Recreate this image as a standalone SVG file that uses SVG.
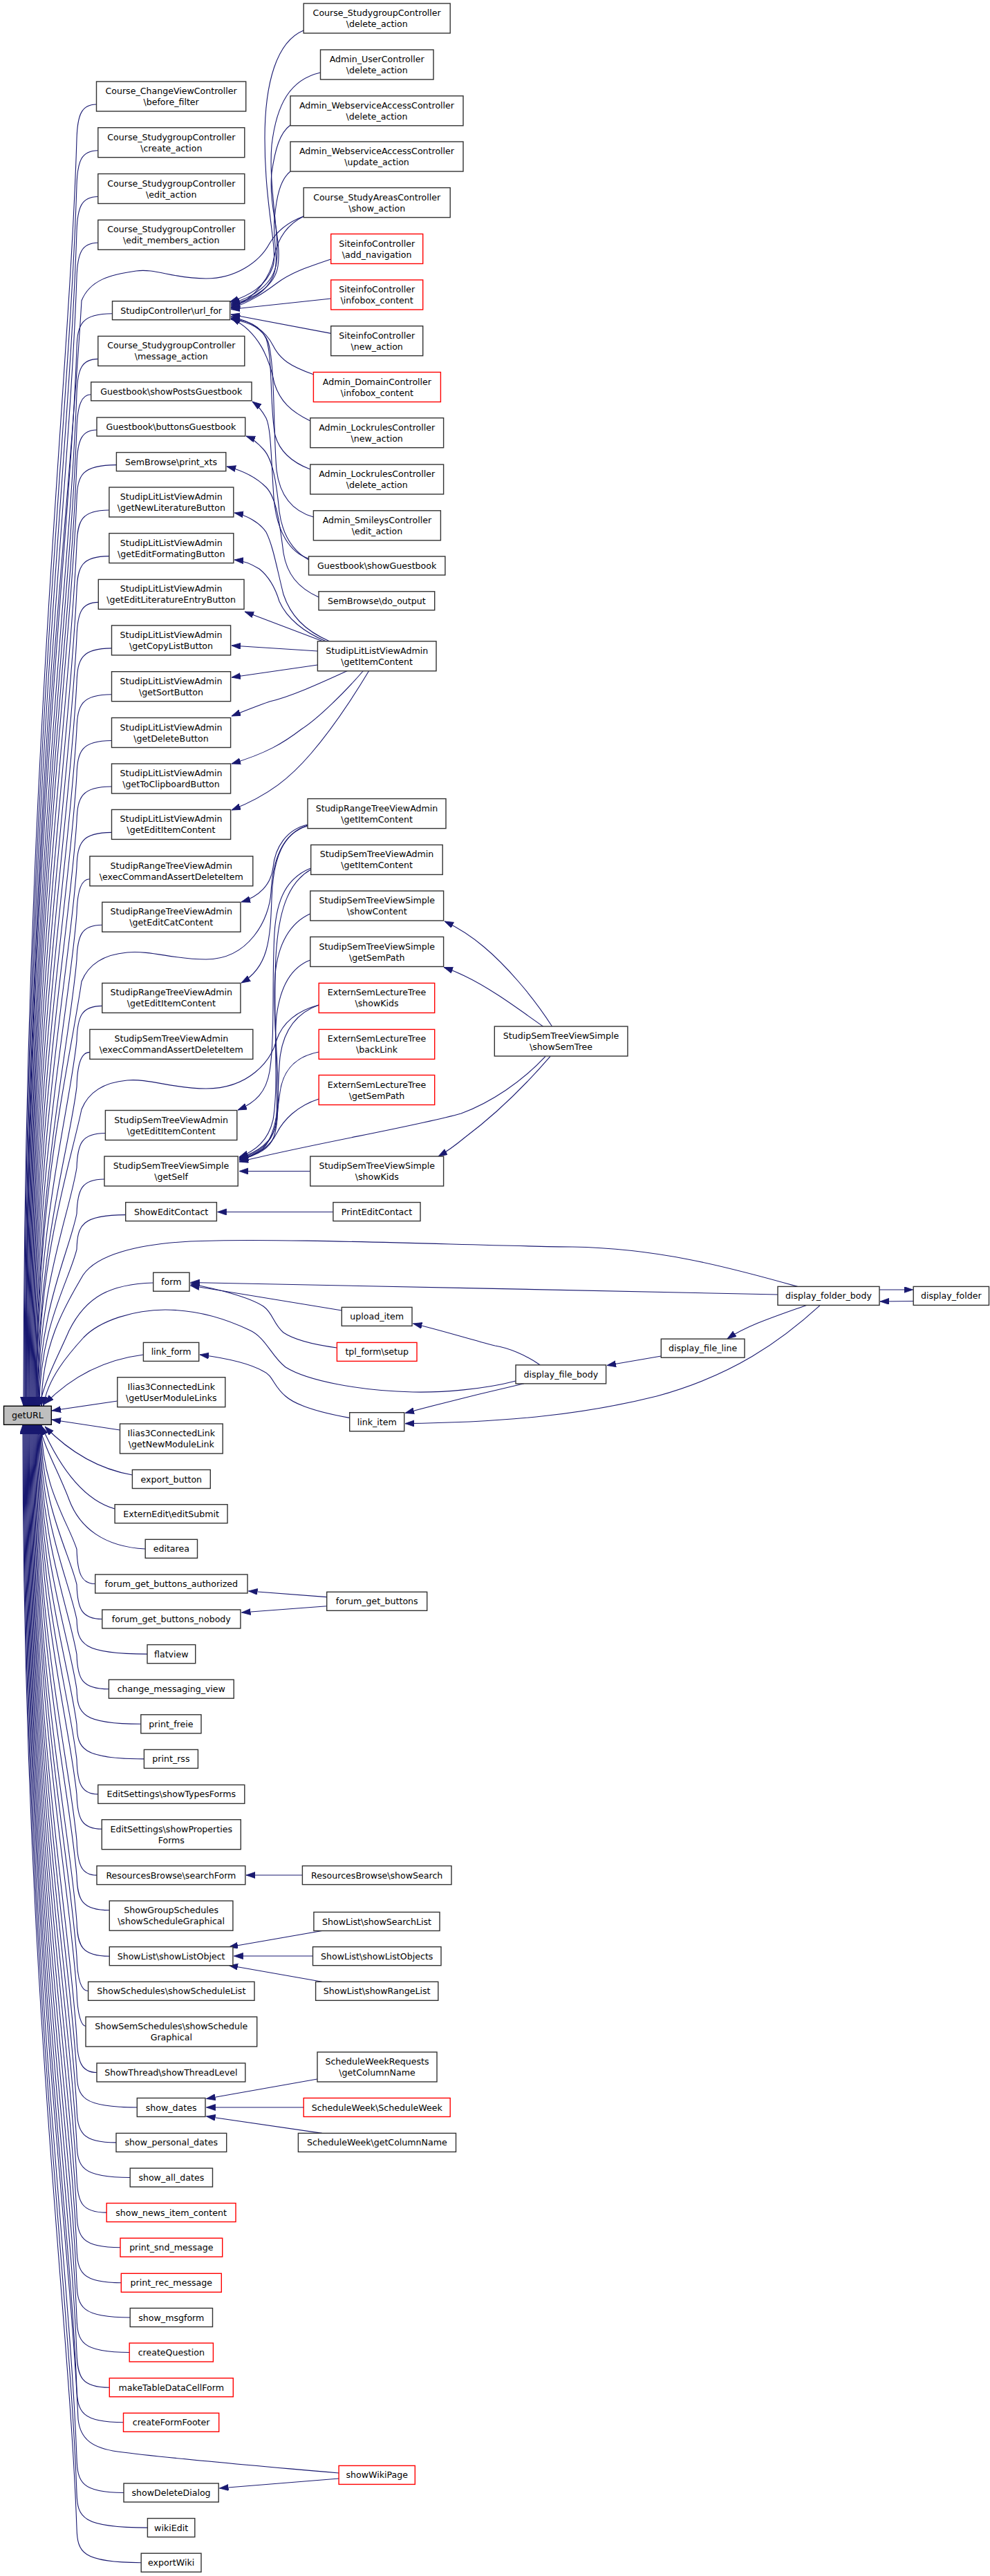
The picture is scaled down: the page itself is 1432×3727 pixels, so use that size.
<svg xmlns="http://www.w3.org/2000/svg" width="1432" height="3727" viewBox="0 0 1432 3727">
<defs>
<marker id="a" markerUnits="userSpaceOnUse" markerWidth="14" markerHeight="10" refX="13" refY="4.5" orient="auto"><path d="M0,0 L13,4.5 L0,9 z" fill="#191970" stroke="#191970" stroke-width="0.8"/></marker>
<style>
.n rect{fill:#fff;stroke:#333;stroke-width:1.4}
.r rect{stroke:#f00}
.g rect{fill:#bfbfbf;stroke:#000}
text{font-family:"DejaVu Sans","Liberation Sans",sans-serif;font-size:12.6px;text-anchor:middle;fill:#000}
.e path{fill:none;stroke:#191970;stroke-width:1.1;marker-end:url(#a)}
</style>
</defs>
<rect width="1432" height="3727" fill="#fff"/>
<g id="edges" class="e">
<path d="M139.5,151 C118,151 112,166 111,201 C100,567.6 34,1117.5 34,2034"/>
<path d="M141.8,217.7 C118,217.7 112,232.7 111,267.7 C100,621 35,1150.9 35,2034"/>
<path d="M141.8,284.5 C118,284.5 112,299.5 111,334.5 C100,674.4 36,1184.3 36,2034"/>
<path d="M141.8,351.3 C118,351.3 112,366.3 111,401.3 C100,727.8 37,1217.7 37,2034"/>
<path d="M162.5,453.7 C118,453.7 112,468.7 111,503.7 C100,809.8 38,1268.9 38,2034"/>
<path d="M141.8,519.4 C118,519.4 112,534.4 111,569.4 C100,862.3 39,1301.7 39,2034"/>
<path d="M131.7,570.8 C118,570.8 112,585.8 111,620.8 C100,903.4 40,1327.4 40,2034"/>
<path d="M140,622 C118,622 112,637 111,672 C100,944.4 41,1353 41,2034"/>
<path d="M168.4,672.6 C118,672.6 112,687.6 111,722.6 C100,984.9 42,1378.3 42,2034"/>
<path d="M157.9,738 C118,738 112,753 111,788 C100,1037.2 43,1411 43,2034"/>
<path d="M157.9,804.6 C118,804.6 112,819.6 111,854.6 C100,1090.5 44,1444.3 44,2034"/>
<path d="M142.3,871.4 C118,871.4 112,886.4 111,921.4 C100,1143.9 45,1477.7 45,2034"/>
<path d="M161.5,937.9 C118,937.9 112,952.9 111,987.9 C100,1197.1 46,1511 46,2034"/>
<path d="M161.5,1004.7 C118,1004.7 112,1019.7 111,1054.7 C100,1250.6 47,1544.4 47,2034"/>
<path d="M161.5,1071.5 C118,1071.5 112,1086.5 111,1121.5 C100,1304 48,1577.8 48,2034"/>
<path d="M161.5,1138 C118,1138 112,1153 111,1188 C100,1357.2 49,1611 49,2034"/>
<path d="M161.5,1204.4 C118,1204.4 112,1219.4 111,1254.4 C100,1410.3 50,1644.2 50,2034"/>
<path d="M129.9,1271.8 C118,1271.8 112,1286.8 111,1321.8 C100,1464.2 51,1677.9 51,2034"/>
<path d="M147.8,1338.3 C118,1338.3 112,1353.3 111,1388.3 C100,1517.4 52,1711.2 52,2034"/>
<path d="M147.8,1455.4 C118,1455.4 112,1470.4 111,1505.4 C100,1611.1 53,1769.7 53,2034"/>
<path d="M129.9,1522.4 C118,1522.4 112,1537.4 111,1572.4 C100,1664.7 54,1803.2 54,2034"/>
<path d="M152.4,1639.5 C118,1639.5 112,1654.5 111,1689.5 C100,1758.4 55,1861.8 55,2034"/>
<path d="M151,1706 C118,1706 112,1721 111,1756 C100,1811.6 56,1895 56,2034"/>
<path d="M181.7,1757.6 C118,1757.6 112,1772.6 111,1807.6 C100,1852.9 57,1920.8 57,2034"/>
<path d="M439,313 C415,322 400,335 390,352 C375,380 340,403 298,403 C250,403 225,388 197,392 C160,397 130,405 118,435 C100,755 37.5,1235 37.5,2034"/>
<path d="M445,1194 C410,1205 395,1240 392,1290 C390,1330 360,1388 298,1388 C250,1388 220,1375 184,1378 C150,1381 128,1395 118,1420 C100,1543 52.5,1727 52.5,2034"/>
<path d="M461.2,1454 C430,1462 408,1480 400,1505 C392,1535 360,1575 298,1575 C250,1575 215,1560 184,1563 C150,1566 128,1580 118,1605 C100,1691 54.5,1820 54.5,2034"/>
<path d="M1153.6,1861.4 C1050,1832 950,1806 828,1804 C700,1803 400,1790 275,1796 C200,1800 140,1815 120,1845 C100,1880 60,1940 60,2034"/>
<path d="M746,1998 C700,2010 640,2015 597,2014 C520,2012 445,1998 413,1978 C392,1962 385,1935 360,1924 C320,1905 280,1895 239,1895 C195,1895 145,1910 121,1935 C100,1958 68,1995 63,2034"/>
<path d="M221.7,1856 C160,1858 125,1875 100,1925 C85,1960 65,1995 57,2034"/>
<path d="M207.4,1960 C160,1966 110,1985 65,2031"/>
<path d="M169.8,2027 L75,2041"/>
<path d="M173.5,2069 L75,2054"/>
<path d="M191.4,2134 C140,2125 100,2100 65,2064"/>
<path d="M166.1,2183 C120,2170 85,2120 60,2063"/>
<path d="M210.2,2241 C150,2238 115,2210 100,2170 C85,2130 64,2095 57,2062"/>
<path d="M137.7,2291.5 C118,2291.5 112,2276.5 111,2241.5 C100,2205.4 60,2151.3 60,2061.5"/>
<path d="M147.8,2342.5 C118,2342.5 112,2327.5 111,2292.5 C100,2246.2 59,2176.8 59,2061.5"/>
<path d="M213,2393.1 C118,2393.1 112,2378.1 111,2343.1 C100,2286.7 58,2202 58,2061.5"/>
<path d="M157.4,2443.7 C118,2443.7 112,2428.7 111,2393.7 C100,2327.2 57,2227.4 57,2061.5"/>
<path d="M203.8,2494.3 C118,2494.3 112,2479.3 111,2444.3 C100,2367.6 56,2252.7 56,2061.5"/>
<path d="M208.4,2544.9 C118,2544.9 112,2529.9 111,2494.9 C100,2408.1 55,2278 55,2061.5"/>
<path d="M141.8,2595.9 C118,2595.9 112,2580.9 111,2545.9 C100,2448.9 54,2303.5 54,2061.5"/>
<path d="M147.3,2646.2 C118,2646.2 112,2631.2 111,2596.2 C100,2489.2 53,2328.6 53,2061.5"/>
<path d="M140,2713.1 C118,2713.1 112,2698.1 111,2663.1 C100,2542.7 52,2362.1 52,2061.5"/>
<path d="M158.3,2763.7 C118,2763.7 112,2748.7 111,2713.7 C100,2583.2 51,2387.4 51,2061.5"/>
<path d="M158.3,2830.2 C118,2830.2 112,2815.2 111,2780.2 C100,2636.4 50,2420.6 50,2061.5"/>
<path d="M127.6,2880.8 C118,2880.8 112,2865.8 111,2830.8 C100,2676.8 49,2445.9 49,2061.5"/>
<path d="M124,2931.5 C118,2931.5 112,2916.5 111,2881.5 C100,2717.4 48,2471.3 48,2061.5"/>
<path d="M140,2998.5 C118,2998.5 112,2983.5 111,2948.5 C100,2771 47,2504.8 47,2061.5"/>
<path d="M198.3,3049 C118,3049 112,3034 111,2999 C100,2811.4 46,2530 46,2061.5"/>
<path d="M168,3099.9 C118,3099.9 112,3084.9 111,3049.9 C100,2852.1 45,2555.5 45,2061.5"/>
<path d="M188.2,3150.5 C118,3150.5 112,3135.5 111,3100.5 C100,2892.6 44,2580.8 44,2061.5"/>
<path d="M154.2,3201.1 C118,3201.1 112,3186.1 111,3151.1 C100,2933.1 43,2606 43,2061.5"/>
<path d="M174,3251.7 C118,3251.7 112,3236.7 111,3201.7 C100,2973.6 42,2631.4 42,2061.5"/>
<path d="M175.3,3302.8 C118,3302.8 112,3287.8 111,3252.8 C100,3014.4 41,2656.9 41,2061.5"/>
<path d="M188.2,3353 C118,3353 112,3338 111,3303 C100,3054.6 40,2682 40,2061.5"/>
<path d="M187.2,3403.5 C118,3403.5 112,3388.5 111,3353.5 C100,3095 39,2707.3 39,2061.5"/>
<path d="M158.3,3454.2 C118,3454.2 112,3439.2 111,3404.2 C100,3135.6 38,2732.6 38,2061.5"/>
<path d="M178.5,3504.8 C118,3504.8 112,3489.8 111,3454.8 C100,3176 37,2757.9 37,2061.5"/>
<path d="M490.1,3578 C350,3566 230,3555 170,3547 C135,3542 116,3530 113,3500 C100,3212 36,2780 36,2061.5"/>
<path d="M179,3606.5 C118,3606.5 112,3591.5 111,3556.5 C100,3257.4 35,2808.8 35,2061.5"/>
<path d="M213.4,3657.1 C118,3657.1 112,3642.1 111,3607.1 C100,3297.9 34,2834.1 34,2061.5"/>
<path d="M204.2,3707.7 C118,3707.7 112,3692.7 111,3657.7 C100,3338.4 33,2859.4 33,2061.5"/>
<path d="M439.2,44 C400,60 383,120 383,200 C383,300 402,360 395,385 C385,415 360,428 332,437"/>
<path d="M463.5,105 C420,115 400,150 393,210 C388,270 405,340 400,380 C396,410 368,430 334,439"/>
<path d="M420,181 C405,192 398,215 393,250 C388,300 408,345 402,385 C398,412 370,432 334,441"/>
<path d="M420,248 C405,260 400,285 397,316 C394,350 405,375 395,400 C385,422 362,436 334,443"/>
<path d="M439.2,313 C415,325 402,345 397,370 C392,400 370,432 334,445"/>
<path d="M478.7,375 C440,388 420,395 400,410 C380,425 360,438 334,446"/>
<path d="M478.7,432 L334,447.5"/>
<path d="M478.7,482.4 L334,455"/>
<path d="M453.4,541.7 C420,530 405,520 395,500 C385,480 365,465 334,458"/>
<path d="M448.8,609 C420,595 405,580 397,555 C390,520 375,480 334,460"/>
<path d="M448.8,679 C425,670 405,655 398,630 C390,590 395,520 385,490 C375,470 360,464 334,461"/>
<path d="M453.4,748 C425,740 405,720 400,680 C395,620 398,530 388,495 C380,475 362,466 334,462"/>
<path d="M446.5,808 C420,800 400,770 396,720 C392,660 392,620 385,605 C378,592 372,586 365,581"/>
<path d="M446.5,810 C420,795 408,770 404,740 C400,700 395,665 381,650 C372,640 364,634 356,631"/>
<path d="M461,864 C430,850 415,830 410,800 C405,760 400,720 385,705 C370,690 348,680 328,675"/>
<path d="M477,928 C440,912 420,890 410,860 C400,820 395,790 385,770 C375,755 355,745 339,742"/>
<path d="M472,928 C440,915 415,895 404,870 C398,850 390,835 375,823 C362,815 350,811 339,810"/>
<path d="M470,929 L354,885"/>
<path d="M459.4,942 L335,934"/>
<path d="M459.4,962 L335,980"/>
<path d="M502.5,970.5 C460,990 420,1008 390,1015 C370,1022 350,1030 335,1036"/>
<path d="M525.5,970.5 C500,1000 460,1040 436,1055 C410,1075 385,1090 335,1105"/>
<path d="M533.7,970.5 C510,1010 480,1055 450,1090 C420,1125 390,1150 335,1172"/>
<path d="M445,1193 C415,1200 398,1225 395,1255 C392,1280 375,1297 349,1305"/>
<path d="M445,1195 C410,1205 395,1240 393,1300 C391,1360 388,1400 349,1422"/>
<path d="M449.7,1256 C415,1270 400,1300 397,1350 C393,1420 398,1500 390,1550 C385,1580 370,1595 344,1606"/>
<path d="M449.7,1258 C420,1275 405,1310 400,1370 C393,1450 405,1560 395,1620 C388,1650 370,1665 346,1674"/>
<path d="M448.8,1322 C420,1335 402,1365 398,1410 C393,1480 408,1570 400,1625 C395,1652 372,1668 346,1675"/>
<path d="M448.8,1389 C420,1400 405,1430 400,1470 C395,1520 405,1590 398,1630 C393,1655 372,1670 346,1676"/>
<path d="M461.2,1454 C430,1465 410,1490 405,1530 C400,1580 405,1620 396,1645 C390,1662 372,1672 346,1677"/>
<path d="M461.2,1522 C430,1528 410,1545 405,1580 C400,1620 395,1648 380,1662 C370,1670 358,1674 346,1678"/>
<path d="M461.2,1590 C430,1600 410,1620 400,1640 C390,1660 370,1672 346,1679"/>
<path d="M789,1528.4 C755,1565 710,1595 667,1611 C600,1630 450,1655 346,1681"/>
<path d="M448.8,1694.5 L346,1694.5"/>
<path d="M798.5,1485 C770,1440 730,1395 700,1370 C680,1353 660,1341 643,1333"/>
<path d="M785.5,1485 C750,1460 710,1430 672,1412 C662,1407 652,1403 642,1399.5"/>
<path d="M796,1528.4 C760,1570 720,1610 672,1646 C660,1656 648,1665 634,1673"/>
<path d="M481.9,1753.5 L314.5,1753.5"/>
<path d="M1125,1873 C900,1868 500,1860 275.5,1855.5"/>
<path d="M494.3,1896 L275.5,1860"/>
<path d="M487.4,1950 C450,1945 425,1938 410,1928 C395,1915 395,1900 381,1890 C360,1876 310,1864 275.5,1857.5"/>
<path d="M505.7,2051.4 C470,2045 430,2035 413,2020 C395,2005 395,1990 381,1984 C360,1972 320,1964 289,1960"/>
<path d="M758,2001.7 C700,2015 640,2030 586,2044.5"/>
<path d="M1186.4,1888.4 C1130,1940 1060,1990 950,2020 C850,2045 740,2058 586,2059.6"/>
<path d="M781.4,1975 C760,1960 735,1950 716,1947 C680,1938 640,1925 597.5,1915"/>
<path d="M956.3,1962 L878,1975.5"/>
<path d="M1166.6,1888.4 C1120,1905 1080,1918 1052,1937"/>
<path d="M1272,1866 L1320.5,1866"/>
<path d="M1321,1882.5 L1273,1883"/>
<path d="M472.7,2310.6 L359.5,2302"/>
<path d="M472.7,2323.7 L349.5,2333"/>
<path d="M437.4,2713 L356,2713"/>
<path d="M465.8,2793.5 L331,2817"/>
<path d="M452.5,2830 L338.5,2830"/>
<path d="M465.8,2867.3 L331,2843.5"/>
<path d="M459,3008 L298.5,3036.5"/>
<path d="M439.2,3049 L298.5,3049"/>
<path d="M465.8,3086.4 L298.5,3062"/>
<path d="M490.1,3586 L317.5,3600"/>
</g>
<g id="getURL" class="n g"><rect x="5.5" y="2034.3" width="68.8" height="27"/><text x="39.9" y="2052.3">getURL</text></g>
<g id="n1" class="n"><rect x="139.5" y="118" width="216.2" height="43"/><text x="247.6" y="136">Course_ChangeViewController</text><text x="247.6" y="152">\before_filter</text></g>
<g id="n2" class="n"><rect x="141.8" y="184.7" width="212" height="43"/><text x="247.8" y="202.7">Course_StudygroupController</text><text x="247.8" y="218.7">\create_action</text></g>
<g id="n3" class="n"><rect x="141.8" y="251.5" width="212" height="43"/><text x="247.8" y="269.5">Course_StudygroupController</text><text x="247.8" y="285.5">\edit_action</text></g>
<g id="n4" class="n"><rect x="141.8" y="318.3" width="212" height="43"/><text x="247.8" y="336.3">Course_StudygroupController</text><text x="247.8" y="352.3">\edit_members_action</text></g>
<g id="n5" class="n"><rect x="162.5" y="435.7" width="170.2" height="27"/><text x="247.6" y="453.7">StudipController\url_for</text></g>
<g id="n6" class="n"><rect x="141.8" y="486.4" width="212" height="43"/><text x="247.8" y="504.4">Course_StudygroupController</text><text x="247.8" y="520.4">\message_action</text></g>
<g id="n7" class="n"><rect x="131.7" y="552.8" width="232.3" height="27"/><text x="247.8" y="570.8">Guestbook\showPostsGuestbook</text></g>
<g id="n8" class="n"><rect x="140" y="604" width="214.7" height="27"/><text x="247.4" y="622">Guestbook\buttonsGuestbook</text></g>
<g id="n9" class="n"><rect x="168.4" y="654.6" width="158.4" height="27"/><text x="247.6" y="672.6">SemBrowse\print_xts</text></g>
<g id="n10" class="n"><rect x="157.9" y="705" width="179.9" height="43"/><text x="247.8" y="723">StudipLitListViewAdmin</text><text x="247.8" y="739">\getNewLiteratureButton</text></g>
<g id="n11" class="n"><rect x="157.9" y="771.6" width="179.9" height="43"/><text x="247.8" y="789.6">StudipLitListViewAdmin</text><text x="247.8" y="805.6">\getEditFormatingButton</text></g>
<g id="n12" class="n"><rect x="142.3" y="838.4" width="210.7" height="43"/><text x="247.6" y="856.4">StudipLitListViewAdmin</text><text x="247.6" y="872.4">\getEditLiteratureEntryButton</text></g>
<g id="n13" class="n"><rect x="161.5" y="904.9" width="172.1" height="43"/><text x="247.5" y="922.9">StudipLitListViewAdmin</text><text x="247.5" y="938.9">\getCopyListButton</text></g>
<g id="n14" class="n"><rect x="161.5" y="971.7" width="172.1" height="43"/><text x="247.5" y="989.7">StudipLitListViewAdmin</text><text x="247.5" y="1005.7">\getSortButton</text></g>
<g id="n15" class="n"><rect x="161.5" y="1038.5" width="172.1" height="43"/><text x="247.5" y="1056.5">StudipLitListViewAdmin</text><text x="247.5" y="1072.5">\getDeleteButton</text></g>
<g id="n16" class="n"><rect x="161.5" y="1105" width="172.1" height="43"/><text x="247.5" y="1123">StudipLitListViewAdmin</text><text x="247.5" y="1139">\getToClipboardButton</text></g>
<g id="n17" class="n"><rect x="161.5" y="1171.4" width="172.1" height="43"/><text x="247.5" y="1189.4">StudipLitListViewAdmin</text><text x="247.5" y="1205.4">\getEditItemContent</text></g>
<g id="n18" class="n"><rect x="129.9" y="1238.8" width="235.9" height="43"/><text x="247.8" y="1256.8">StudipRangeTreeViewAdmin</text><text x="247.8" y="1272.8">\execCommandAssertDeleteItem</text></g>
<g id="n19" class="n"><rect x="147.8" y="1305.3" width="200.1" height="43"/><text x="247.8" y="1323.3">StudipRangeTreeViewAdmin</text><text x="247.8" y="1339.3">\getEditCatContent</text></g>
<g id="n20" class="n"><rect x="147.8" y="1422.4" width="200.1" height="43"/><text x="247.8" y="1440.4">StudipRangeTreeViewAdmin</text><text x="247.8" y="1456.4">\getEditItemContent</text></g>
<g id="n21" class="n"><rect x="129.9" y="1489.4" width="235.9" height="43"/><text x="247.8" y="1507.4">StudipSemTreeViewAdmin</text><text x="247.8" y="1523.4">\execCommandAssertDeleteItem</text></g>
<g id="n22" class="n"><rect x="152.4" y="1606.5" width="190.4" height="43"/><text x="247.6" y="1624.5">StudipSemTreeViewAdmin</text><text x="247.6" y="1640.5">\getEditItemContent</text></g>
<g id="n23" class="n"><rect x="151" y="1673" width="193.2" height="43"/><text x="247.6" y="1691">StudipSemTreeViewSimple</text><text x="247.6" y="1707">\getSelf</text></g>
<g id="n24" class="n"><rect x="181.7" y="1739.6" width="131.7" height="27"/><text x="247.6" y="1757.6">ShowEditContact</text></g>
<g id="n25" class="n"><rect x="221.7" y="1841.2" width="52.3" height="27"/><text x="247.8" y="1859.2">form</text></g>
<g id="n26" class="n"><rect x="207.4" y="1942.4" width="80.3" height="27"/><text x="247.6" y="1960.4">link_form</text></g>
<g id="n27" class="n"><rect x="169.8" y="1992.7" width="156" height="43"/><text x="247.8" y="2010.7">Ilias3ConnectedLink</text><text x="247.8" y="2026.7">\getUserModuleLinks</text></g>
<g id="n28" class="n"><rect x="173.5" y="2060" width="148.7" height="43"/><text x="247.8" y="2078">Ilias3ConnectedLink</text><text x="247.8" y="2094">\getNewModuleLink</text></g>
<g id="n29" class="n"><rect x="191.4" y="2126.5" width="112.9" height="27"/><text x="247.8" y="2144.5">export_button</text></g>
<g id="n30" class="n"><rect x="166.1" y="2176.7" width="162.9" height="27"/><text x="247.6" y="2194.7">ExternEdit\editSubmit</text></g>
<g id="n31" class="n"><rect x="210.2" y="2227.3" width="75.3" height="27"/><text x="247.8" y="2245.3">editarea</text></g>
<g id="n32" class="n"><rect x="137.7" y="2278" width="220.3" height="27"/><text x="247.8" y="2296">forum_get_buttons_authorized</text></g>
<g id="n33" class="n"><rect x="147.8" y="2329" width="200.1" height="27"/><text x="247.8" y="2347">forum_get_buttons_nobody</text></g>
<g id="n34" class="n"><rect x="213" y="2379.6" width="69.7" height="27"/><text x="247.8" y="2397.6">flatview</text></g>
<g id="n35" class="n"><rect x="157.4" y="2430.2" width="180.8" height="27"/><text x="247.8" y="2448.2">change_messaging_view</text></g>
<g id="n36" class="n"><rect x="203.8" y="2480.8" width="87.2" height="27"/><text x="247.4" y="2498.8">print_freie</text></g>
<g id="n37" class="n"><rect x="208.4" y="2531.4" width="78" height="27"/><text x="247.4" y="2549.4">print_rss</text></g>
<g id="n38" class="n"><rect x="141.8" y="2582.4" width="212" height="27"/><text x="247.8" y="2600.4">EditSettings\showTypesForms</text></g>
<g id="n39" class="n"><rect x="147.3" y="2632.7" width="201" height="43"/><text x="247.8" y="2650.7">EditSettings\showProperties</text><text x="247.8" y="2666.7">Forms</text></g>
<g id="n40" class="n"><rect x="140" y="2699.6" width="214.8" height="27"/><text x="247.4" y="2717.6">ResourcesBrowse\searchForm</text></g>
<g id="n41" class="n"><rect x="158.3" y="2750.2" width="178.6" height="43"/><text x="247.6" y="2768.2">ShowGroupSchedules</text><text x="247.6" y="2784.2">\showScheduleGraphical</text></g>
<g id="n42" class="n"><rect x="158.3" y="2816.7" width="178.6" height="27"/><text x="247.6" y="2834.7">ShowList\showListObject</text></g>
<g id="n43" class="n"><rect x="127.6" y="2867.3" width="240.4" height="27"/><text x="247.8" y="2885.3">ShowSchedules\showScheduleList</text></g>
<g id="n44" class="n"><rect x="124" y="2918" width="247.7" height="43"/><text x="247.8" y="2936">ShowSemSchedules\showSchedule</text><text x="247.8" y="2952">Graphical</text></g>
<g id="n45" class="n"><rect x="140" y="2985" width="214.8" height="27"/><text x="247.4" y="3003">ShowThread\showThreadLevel</text></g>
<g id="n46" class="n"><rect x="198.3" y="3035.5" width="98.7" height="27"/><text x="247.6" y="3053.5">show_dates</text></g>
<g id="n47" class="n"><rect x="168" y="3086.4" width="159.7" height="27"/><text x="247.8" y="3104.4">show_personal_dates</text></g>
<g id="n48" class="n"><rect x="188.2" y="3137" width="119.3" height="27"/><text x="247.8" y="3155">show_all_dates</text></g>
<g id="n49" class="n r"><rect x="154.2" y="3187.6" width="186.8" height="27"/><text x="247.6" y="3205.6">show_news_item_content</text></g>
<g id="n50" class="n r"><rect x="174" y="3238.2" width="147.7" height="27"/><text x="247.8" y="3256.2">print_snd_message</text></g>
<g id="n51" class="n r"><rect x="175.3" y="3289.3" width="145" height="27"/><text x="247.8" y="3307.3">print_rec_message</text></g>
<g id="n52" class="n"><rect x="188.2" y="3339.5" width="119.3" height="27"/><text x="247.8" y="3357.5">show_msgform</text></g>
<g id="n53" class="n r"><rect x="187.2" y="3390" width="121.2" height="27"/><text x="247.8" y="3408">createQuestion</text></g>
<g id="n54" class="n r"><rect x="158.3" y="3440.7" width="179" height="27"/><text x="247.8" y="3458.7">makeTableDataCellForm</text></g>
<g id="n55" class="n r"><rect x="178.5" y="3491.3" width="138.2" height="27"/><text x="247.6" y="3509.3">createFormFooter</text></g>
<g id="n56" class="n"><rect x="179" y="3593" width="137.2" height="27"/><text x="247.6" y="3611">showDeleteDialog</text></g>
<g id="n57" class="n"><rect x="213.4" y="3643.6" width="68.4" height="27"/><text x="247.6" y="3661.6">wikiEdit</text></g>
<g id="n58" class="n"><rect x="204.2" y="3694.2" width="86.8" height="27"/><text x="247.6" y="3712.2">exportWiki</text></g>
<g id="m1" class="n"><rect x="439.2" y="5" width="212" height="43"/><text x="545.2" y="23">Course_StudygroupController</text><text x="545.2" y="39">\delete_action</text></g>
<g id="m2" class="n"><rect x="463.5" y="72" width="163.5" height="43"/><text x="545.2" y="90">Admin_UserController</text><text x="545.2" y="106">\delete_action</text></g>
<g id="m3" class="n"><rect x="420" y="138.8" width="250" height="43"/><text x="545" y="156.8">Admin_WebserviceAccessController</text><text x="545" y="172.8">\delete_action</text></g>
<g id="m4" class="n"><rect x="420" y="205" width="250" height="43"/><text x="545" y="223">Admin_WebserviceAccessController</text><text x="545" y="239">\update_action</text></g>
<g id="m5" class="n"><rect x="439.2" y="271.6" width="212" height="43"/><text x="545.2" y="289.6">Course_StudyAreasController</text><text x="545.2" y="305.6">\show_action</text></g>
<g id="m6" class="n r"><rect x="478.7" y="338.5" width="133" height="43"/><text x="545.2" y="356.5">SiteinfoController</text><text x="545.2" y="372.5">\add_navigation</text></g>
<g id="m7" class="n r"><rect x="478.7" y="405" width="133" height="43"/><text x="545.2" y="423">SiteinfoController</text><text x="545.2" y="439">\infobox_content</text></g>
<g id="m8" class="n"><rect x="478.7" y="471.7" width="133" height="43"/><text x="545.2" y="489.7">SiteinfoController</text><text x="545.2" y="505.7">\new_action</text></g>
<g id="m9" class="n r"><rect x="453.4" y="538.5" width="184" height="43"/><text x="545.4" y="556.5">Admin_DomainController</text><text x="545.4" y="572.5">\infobox_content</text></g>
<g id="m10" class="n"><rect x="448.8" y="604.7" width="192.8" height="43"/><text x="545.2" y="622.7">Admin_LockrulesController</text><text x="545.2" y="638.7">\new_action</text></g>
<g id="m11" class="n"><rect x="448.8" y="672" width="192.8" height="43"/><text x="545.2" y="690">Admin_LockrulesController</text><text x="545.2" y="706">\delete_action</text></g>
<g id="m12" class="n"><rect x="453.4" y="738.8" width="184" height="43"/><text x="545.4" y="756.8">Admin_SmileysController</text><text x="545.4" y="772.8">\edit_action</text></g>
<g id="m13" class="n"><rect x="446.5" y="805" width="197.4" height="27"/><text x="545.2" y="823">Guestbook\showGuestbook</text></g>
<g id="m14" class="n"><rect x="461" y="855.8" width="167.7" height="27"/><text x="544.9" y="873.8">SemBrowse\do_output</text></g>
<g id="m15" class="n"><rect x="459.4" y="927.8" width="171.6" height="43"/><text x="545.2" y="945.8">StudipLitListViewAdmin</text><text x="545.2" y="961.8">\getItemContent</text></g>
<g id="m16" class="n"><rect x="445" y="1155.6" width="200" height="43"/><text x="545" y="1173.6">StudipRangeTreeViewAdmin</text><text x="545" y="1189.6">\getItemContent</text></g>
<g id="m17" class="n"><rect x="449.7" y="1222.4" width="190.5" height="43"/><text x="545" y="1240.4">StudipSemTreeViewAdmin</text><text x="545" y="1256.4">\getItemContent</text></g>
<g id="m18" class="n"><rect x="448.8" y="1289" width="192.8" height="43"/><text x="545.2" y="1307">StudipSemTreeViewSimple</text><text x="545.2" y="1323">\showContent</text></g>
<g id="m19" class="n"><rect x="448.8" y="1355.5" width="192.8" height="43"/><text x="545.2" y="1373.5">StudipSemTreeViewSimple</text><text x="545.2" y="1389.5">\getSemPath</text></g>
<g id="m20" class="n r"><rect x="461.2" y="1422.4" width="167.5" height="43"/><text x="545" y="1440.4">ExternSemLectureTree</text><text x="545" y="1456.4">\showKids</text></g>
<g id="m21" class="n r"><rect x="461.2" y="1489.4" width="167.5" height="43"/><text x="545" y="1507.4">ExternSemLectureTree</text><text x="545" y="1523.4">\backLink</text></g>
<g id="m22" class="n r"><rect x="461.2" y="1555.5" width="167.5" height="43"/><text x="545" y="1573.5">ExternSemLectureTree</text><text x="545" y="1589.5">\getSemPath</text></g>
<g id="m23" class="n"><rect x="448.8" y="1673" width="192.8" height="43"/><text x="545.2" y="1691">StudipSemTreeViewSimple</text><text x="545.2" y="1707">\showKids</text></g>
<g id="m24" class="n"><rect x="481.9" y="1739.6" width="126.1" height="27"/><text x="545" y="1757.6">PrintEditContact</text></g>
<g id="m25" class="n"><rect x="494.3" y="1891.4" width="101.7" height="27"/><text x="545.2" y="1909.4">upload_item</text></g>
<g id="m26" class="n r"><rect x="487.4" y="1942.4" width="115.6" height="27"/><text x="545.2" y="1960.4">tpl_form\setup</text></g>
<g id="m27" class="n"><rect x="505.7" y="2043.7" width="79" height="27"/><text x="545.2" y="2061.7">link_item</text></g>
<g id="m28" class="n"><rect x="472.7" y="2303.3" width="145" height="27"/><text x="545.2" y="2321.3">forum_get_buttons</text></g>
<g id="m29" class="n"><rect x="437.4" y="2699.6" width="215.6" height="27"/><text x="545.2" y="2717.6">ResourcesBrowse\showSearch</text></g>
<g id="m30" class="n"><rect x="453.9" y="2766.5" width="182.1" height="27"/><text x="545" y="2784.5">ShowList\showSearchList</text></g>
<g id="m31" class="n"><rect x="452.5" y="2816.7" width="185.5" height="27"/><text x="545.2" y="2834.7">ShowList\showListObjects</text></g>
<g id="m32" class="n"><rect x="456.6" y="2867.3" width="177.2" height="27"/><text x="545.2" y="2885.3">ShowList\showRangeList</text></g>
<g id="m33" class="n"><rect x="459" y="2969" width="173" height="43"/><text x="545.5" y="2987">ScheduleWeekRequests</text><text x="545.5" y="3003">\getColumnName</text></g>
<g id="m34" class="n r"><rect x="439.2" y="3035.5" width="212" height="27"/><text x="545.2" y="3053.5">ScheduleWeek\ScheduleWeek</text></g>
<g id="m35" class="n"><rect x="431.4" y="3086.4" width="228.1" height="27"/><text x="545.4" y="3104.4">ScheduleWeek\getColumnName</text></g>
<g id="m36" class="n r"><rect x="490.1" y="3567.4" width="110.2" height="27"/><text x="545.2" y="3585.4">showWikiPage</text></g>
<g id="k1" class="n"><rect x="715.3" y="1485" width="192.6" height="43"/><text x="811.6" y="1503">StudipSemTreeViewSimple</text><text x="811.6" y="1519">\showSemTree</text></g>
<g id="k2" class="n"><rect x="746" y="1974.9" width="130.6" height="27"/><text x="811.3" y="1992.9">display_file_body</text></g>
<g id="k3" class="n"><rect x="956.3" y="1937.2" width="120.7" height="27"/><text x="1016.6" y="1955.2">display_file_line</text></g>
<g id="k4" class="n"><rect x="1125" y="1861.4" width="147" height="27"/><text x="1198.5" y="1879.4">display_folder_body</text></g>
<g id="k5" class="n"><rect x="1321.2" y="1861.4" width="109.3" height="27"/><text x="1375.8" y="1879.4">display_folder</text></g>
</svg>
